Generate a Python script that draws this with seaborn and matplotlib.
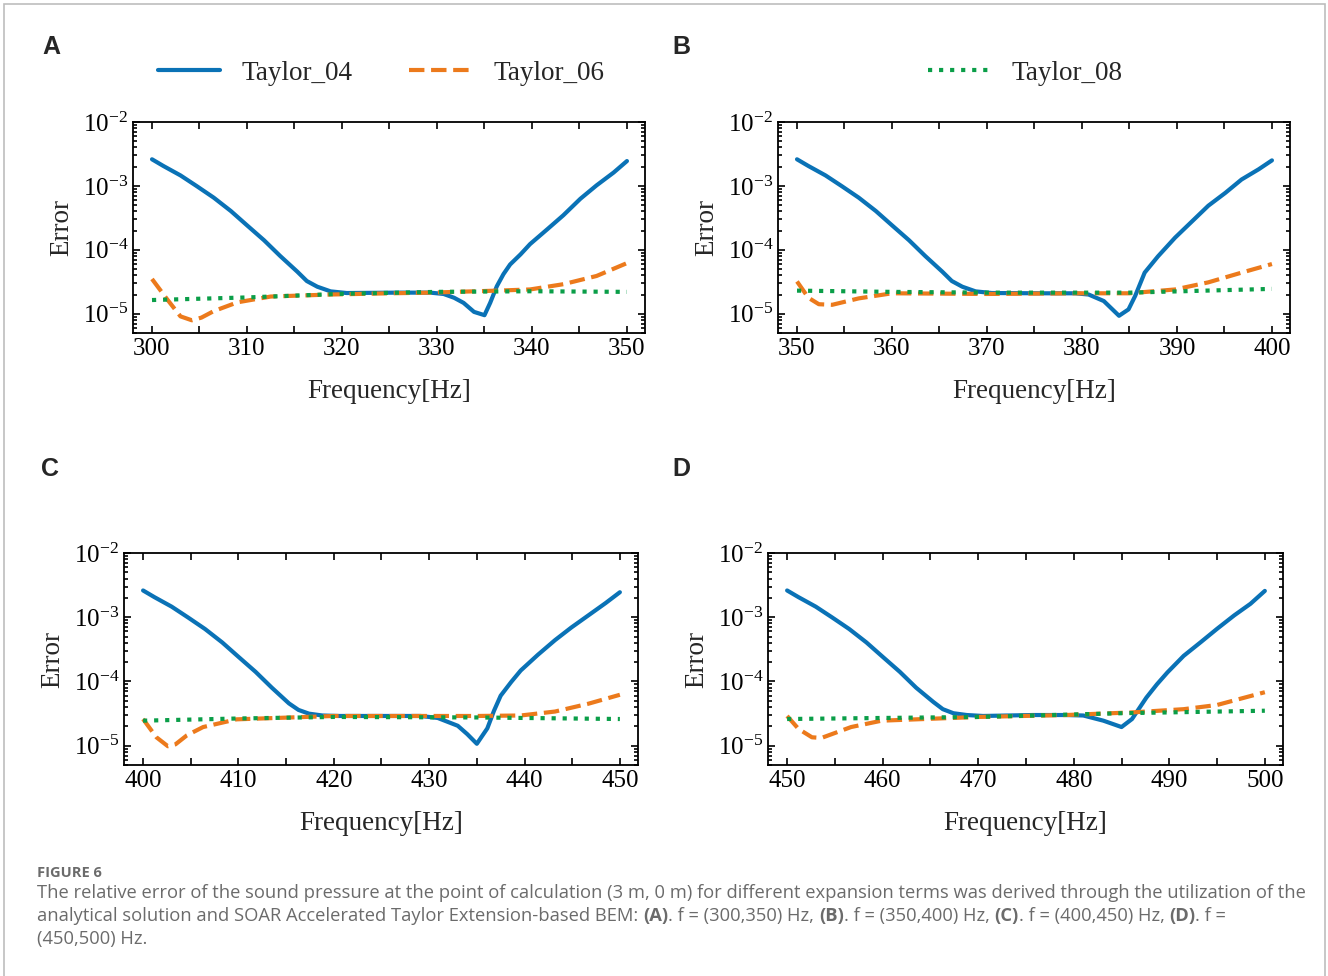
import numpy as np
import pandas as pd
import matplotlib
matplotlib.use("Agg")
import matplotlib.pyplot as plt
import seaborn as sns
from matplotlib.ticker import MultipleLocator, LogLocator, NullFormatter
from matplotlib.patches import Rectangle

# ---- data (frequency [Hz], error) ----
# panel A : 300-350 Hz
fA_04 = [300, 301.2, 303, 304.7, 306.5, 308.3, 310, 311.8, 313.5, 315.3, 316.3, 317.4, 318.8, 320.5, 325.8,
         329.3, 330.7, 331.8, 332.8, 333.9, 335, 335.6, 336.3, 337, 337.7, 338.8, 339.8, 341.6, 343.3,
         345.1, 346.8, 348.6, 350]
eA_04 = [2.61e-3, 2.05e-3, 1.46e-3, 9.95e-4, 6.55e-4, 4.05e-4, 2.42e-4, 1.41e-4, 8.0e-5, 4.55e-5, 3.25e-5,
         2.65e-5, 2.24e-5, 2.11e-5, 2.14e-5, 2.14e-5, 2.04e-5, 1.78e-5, 1.48e-5, 1.07e-5, 9.5e-6, 1.48e-5,
         2.69e-5, 4.17e-5, 5.9e-5, 8.5e-5, 1.23e-4, 2.09e-4, 3.47e-4, 6.3e-4, 1.02e-3, 1.62e-3, 2.45e-3]
fA_06 = [300, 301.6, 303, 304.2, 305.2, 306.5, 309, 312.5, 318.8, 325, 329.3, 336.3, 339.8, 343.3, 346.8, 350]
eA_06 = [3.5e-5, 1.68e-5, 9.1e-6, 7.9e-6, 8.7e-6, 1.1e-5, 1.51e-5, 1.86e-5, 2.0e-5, 2.09e-5, 2.14e-5,
         2.3e-5, 2.4e-5, 2.9e-5, 3.9e-5, 6.2e-5]
fA_08 = [300, 310, 320, 330, 340, 350]
eA_08 = [1.64e-5, 1.8e-5, 2.05e-5, 2.2e-5, 2.25e-5, 2.2e-5]

# panel B : 350-400 Hz
fB_04 = [350, 351.2, 353, 354.7, 356.5, 358.3, 360, 361.8, 363.5, 365.3, 366.3, 367.4, 368.8, 370.5, 375.8,
         379.3, 380.7, 382.3, 383.9, 384.9, 385.6, 386.6, 388, 389.8, 391.6, 393.3, 395.1, 396.8, 398.6, 400]
eB_04 = [2.61e-3, 2.05e-3, 1.46e-3, 9.95e-4, 6.55e-4, 4.05e-4, 2.42e-4, 1.41e-4, 8.0e-5, 4.55e-5, 3.25e-5,
         2.65e-5, 2.24e-5, 2.11e-5, 2.09e-5, 2.09e-5, 2.0e-5, 1.58e-5, 9.3e-6, 1.17e-5, 1.9e-5, 4.4e-5,
         7.9e-5, 1.55e-4, 2.8e-4, 4.9e-4, 7.8e-4, 1.26e-3, 1.82e-3, 2.51e-3]
fB_06 = [350, 351.2, 352.3, 353.7, 356.5, 360, 370, 380, 385, 389.8, 393.3, 396.8, 400]
eB_06 = [3.2e-5, 1.78e-5, 1.41e-5, 1.38e-5, 1.74e-5, 2.09e-5, 2.04e-5, 2.09e-5, 2.09e-5, 2.4e-5, 3.1e-5,
         4.4e-5, 6.0e-5]
fB_08 = [350, 360, 370, 385, 400]
eB_08 = [2.3e-5, 2.2e-5, 2.14e-5, 2.14e-5, 2.45e-5]

# panel C : 400-450 Hz
fC_04 = [400, 401.2, 403, 404.7, 406.5, 408.3, 410, 411.8, 413.5, 415.3, 416.3, 417.4, 418.8, 420.5, 425.6,
         429.1, 430.9, 433, 434, 435, 436.1, 436.8, 437.5, 438.6, 439.6, 441.4, 443.2, 444.9, 446.7, 448.5, 450]
eC_04 = [2.61e-3, 2.05e-3, 1.46e-3, 9.95e-4, 6.55e-4, 4.05e-4, 2.42e-4, 1.41e-4, 8.0e-5, 4.55e-5, 3.6e-5,
         3.15e-5, 2.95e-5, 2.9e-5, 2.9e-5, 2.9e-5, 2.7e-5, 2.04e-5, 1.51e-5, 1.07e-5, 1.86e-5, 3.5e-5,
         6.0e-5, 9.8e-5, 1.48e-4, 2.6e-4, 4.4e-4, 6.9e-4, 1.07e-3, 1.66e-3, 2.45e-3]
fC_06 = [400, 401.4, 402.6, 403.4, 404.6, 406.3, 409.8, 420, 435, 439.6, 443.2, 446.7, 450]
eC_06 = [2.6e-5, 1.35e-5, 9.8e-6, 1.05e-5, 1.45e-5, 1.95e-5, 2.57e-5, 2.9e-5, 2.9e-5, 2.95e-5, 3.4e-5,
         4.5e-5, 6.2e-5]
fC_08 = [400, 410, 420, 435, 450]
eC_08 = [2.45e-5, 2.65e-5, 2.8e-5, 2.75e-5, 2.6e-5]

# panel D : 450-500 Hz
fD_04 = [450, 451.2, 453, 454.7, 456.5, 458.3, 460, 461.8, 463.5, 465.3, 466.3, 467.4, 468.8, 470.5, 475.7,
         479.2, 481, 483.1, 485, 486.1, 487.6, 488.7, 489.8, 491.5, 493.3, 495, 496.8, 498.5, 500]
eD_04 = [2.61e-3, 2.05e-3, 1.46e-3, 9.95e-4, 6.55e-4, 4.05e-4, 2.42e-4, 1.41e-4, 8.0e-5, 4.8e-5, 3.7e-5,
         3.2e-5, 3.0e-5, 2.9e-5, 3.0e-5, 3.0e-5, 2.95e-5, 2.45e-5, 1.95e-5, 2.6e-5, 5.6e-5, 9.0e-5,
         1.38e-4, 2.5e-4, 4.1e-4, 6.6e-4, 1.07e-3, 1.62e-3, 2.57e-3]
fD_06 = [450, 451.2, 452.6, 453.6, 456.7, 459.9, 470, 479.2, 486.2, 491.5, 495, 500]
eD_06 = [2.9e-5, 1.82e-5, 1.35e-5, 1.32e-5, 1.95e-5, 2.45e-5, 2.8e-5, 3.0e-5, 3.3e-5, 3.7e-5, 4.3e-5, 6.8e-5]
fD_08 = [450, 460, 470, 485, 500]
eD_08 = [2.6e-5, 2.7e-5, 2.8e-5, 3.2e-5, 3.5e-5]

panels = [
    ("A", (300, 350), [(fA_04, eA_04), (fA_06, eA_06), (fA_08, eA_08)]),
    ("B", (350, 400), [(fB_04, eB_04), (fB_06, eB_06), (fB_08, eB_08)]),
    ("C", (400, 450), [(fC_04, eC_04), (fC_06, eC_06), (fC_08, eC_08)]),
    ("D", (450, 500), [(fD_04, eD_04), (fD_06, eD_06), (fD_08, eD_08)]),
]
series_names = ["Taylor_04", "Taylor_06", "Taylor_08"]
colors = ["#0a72b6", "#ec7a1c", "#0a9e48"]
styles = ["-", "--", ":"]

sns.set_theme(style="ticks")
plt.rcParams["font.family"] = ["Liberation Serif", "DejaVu Serif"]
plt.rcParams["mathtext.fontset"] = "stix"
plt.rcParams["xtick.direction"] = "in"
plt.rcParams["ytick.direction"] = "in"

fig = plt.figure(figsize=(13.28, 9.76), dpi=100)
W, H = 1328, 976
# axes boxes in pixels: left, top, right, bottom
boxes = [(133, 122, 645, 333), (778, 122, 1290, 333), (124, 553, 638, 765), (768, 553, 1283, 765)]
letters_xy = [(51, 47), (681, 47), (50, 469), (681, 469)]

axes = []
for (letter, (f0, f1), data), (l, t, r, b), (lx, ly) in zip(panels, boxes, letters_xy):
    ax = fig.add_axes([l / W, 1 - b / H, (r - l) / W, (b - t) / H])
    for (fx, ey), name, c, ls in zip(data, series_names, colors, styles):
        df = pd.DataFrame({"f": fx, "err": ey})
        sns.lineplot(data=df, x="f", y="err", ax=ax, color=c, linestyle=ls, linewidth=3,
                     label=name, legend=False, solid_joinstyle="round")
    ax.set_yscale("log")
    ax.set_ylim(5e-6, 1e-2)
    ax.set_xlim(f0 - 2, f1 + 1.9)
    ax.xaxis.set_major_locator(MultipleLocator(10))
    ax.xaxis.set_minor_locator(MultipleLocator(5))
    ax.yaxis.set_major_locator(LogLocator(base=10, numticks=10))
    ax.yaxis.set_minor_locator(LogLocator(base=10, subs=np.arange(2, 10), numticks=10))
    ax.yaxis.set_minor_formatter(NullFormatter())
    ax.tick_params(which="both", top=True, right=True, direction="in", width=1.2, labelsize=18,
                   colors="black")
    ax.tick_params(which="major", length=5)
    ax.tick_params(axis="x", which="minor", length=5)
    ax.tick_params(axis="y", which="minor", length=3)
    for sp in ax.spines.values():
        sp.set_linewidth(1.3)
        sp.set_color("black")
    ax.set_xlabel("Frequency[Hz]", fontsize=19.5, labelpad=14)
    ax.set_ylabel("Error", fontsize=19.5, labelpad=6)
    fig.text(lx / W, 1 - ly / H, letter, fontsize=18, fontweight="bold",
             family=["Liberation Sans", "DejaVu Sans"], ha="center", va="center")
    axes.append(ax)

# legends: first two entries over A, third over B
lines_a = axes[0].get_lines()
axes[0].legend(lines_a[:2], series_names[:2], loc="center", bbox_to_anchor=(381 / W, 1 - 73 / H),
               bbox_transform=fig.transFigure, ncol=2, frameon=False, fontsize=19.5,
               handlelength=2.3, handletextpad=0.8, columnspacing=2.1)
lines_b = axes[1].get_lines()
axes[1].legend(lines_b[2:3], series_names[2:3], loc="center", bbox_to_anchor=(1025 / W, 1 - 73 / H),
               bbox_transform=fig.transFigure, ncol=1, frameon=False, fontsize=19.5,
               handlelength=2.3, handletextpad=0.8)

# frame around figure
fig.patches.append(Rectangle((4 / W, -0.01), 1321 / W, 1 - 4 / H + 0.01, transform=fig.transFigure,
                             fill=False, edgecolor="#bdbdbd", linewidth=1.2))

# caption
cap_font = ["Open Sans", "DejaVu Sans"]
cap_color = "#6b6b6b"
fig.text(37 / W, 1 - 873 / H, "FIGURE 6", fontsize=10.5, fontweight="bold", color=cap_color,
         family=cap_font, va="center", ha="left")

cap_lines = [
    [("The relative error of the sound pressure at the point of calculation (3 m, 0 m) for different "
      "expansion terms was derived through the utilization of the", "normal")],
    [("analytical solution and SOAR Accelerated Taylor Extension-based BEM: ", "normal"), ("(A)", "bold"),
     (". f = (300,350) Hz, ", "normal"), ("(B)", "bold"), (". f = (350,400) Hz, ", "normal"),
     ("(C)", "bold"), (". f = (400,450) Hz, ", "normal"), ("(D)", "bold"), (". f =", "normal")],
    [("(450,500) Hz.", "normal")],
]
cap_y = [893, 916, 939]
renderer = fig.canvas.get_renderer()
for runs, yy in zip(cap_lines, cap_y):
    x = 37
    for txt, wt in runs:
        t = fig.text(x / W, 1 - yy / H, txt, fontsize=13.2, fontweight=wt, color=cap_color,
                     family=cap_font, va="center", ha="left")
        x += t.get_window_extent(renderer=renderer).width

fig.savefig("out.png", dpi=100)
